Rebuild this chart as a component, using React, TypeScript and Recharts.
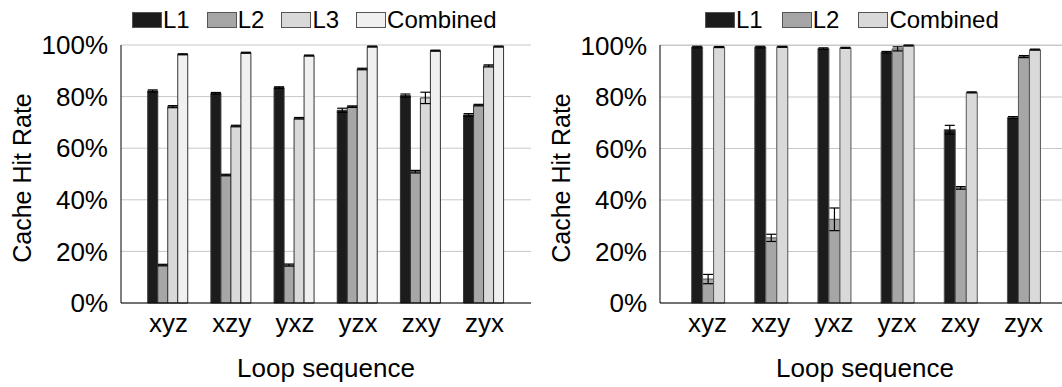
import React from "react";
import { BarChart, Bar, XAxis, YAxis, CartesianGrid, ErrorBar } from "recharts";

const FONT = '"Liberation Sans", Arial, Helvetica, sans-serif';

const sequences = ["xyz", "xzy", "yxz", "yzx", "zxy", "zyx"];
const yTicks = [0, 20, 40, 60, 80, 100];

// left panel: L1 / L2 / L3 / combined
const leftL1 = [82.2, 81.3, 83.5, 74.7, 80.4, 72.9];
const leftL1Err = [0.4, 0.3, 0.3, 0.8, 0.6, 0.5];
const leftL2 = [14.7, 49.6, 14.7, 76.1, 50.9, 76.7];
const leftL2Err = [0.3, 0.3, 0.4, 0.3, 0.5, 0.3];
const leftL3 = [76.1, 68.6, 71.6, 90.7, 79.5, 91.9];
const leftL3Err = [0.4, 0.3, 0.3, 0.3, 2.2, 0.4];
const leftComb = [96.4, 97.0, 95.9, 99.4, 97.8, 99.4];
const leftCombErr = [0.2, 0.2, 0.2, 0.2, 0.2, 0.2];

// right panel: L1 / L2 / combined
const rightL1 = [99.4, 99.4, 98.8, 97.4, 67.3, 72.0];
const rightL1Err = [0.3, 0.3, 0.3, 0.3, 1.7, 0.4];
const rightL2 = [9.3, 25.3, 32.5, 98.7, 44.7, 95.7];
const rightL2Err = [1.8, 1.4, 4.4, 0.8, 0.5, 0.4];
const rightComb = [99.4, 99.5, 99.1, 100, 81.8, 98.4];
const rightCombErr = [0.2, 0.2, 0.2, 0.2, 0.2, 0.2];

const COLORS = { l1: "#1c1c1c", l2: "#a6a6a6", l3: "#d9d9d9", comb: "#f0f0f0" };

const leftData = sequences.map((seq, i) => ({
  seq,
  l1: leftL1[i],
  l1Err: leftL1Err[i],
  l2: leftL2[i],
  l2Err: leftL2Err[i],
  l3: leftL3[i],
  l3Err: leftL3Err[i],
  comb: leftComb[i],
  combErr: leftCombErr[i],
}));

const rightData = sequences.map((seq, i) => ({
  seq,
  l1: rightL1[i],
  l1Err: rightL1Err[i],
  l2: rightL2[i],
  l2Err: rightL2Err[i],
  comb: rightComb[i],
  combErr: rightCombErr[i],
}));

const YTitle = (props: any) => {
  const vb = props.viewBox;
  const cx = vb.x + 22;
  const cy = vb.y + vb.height / 2 + 4;
  return (
    <text
      x={cx}
      y={cy}
      transform={`rotate(-90, ${cx}, ${cy})`}
      textAnchor="middle"
      dominantBaseline="central"
      fontSize={25}
      fill="#000"
      fontFamily={FONT}
    >
      Cache Hit Rate
    </text>
  );
};

type Series = { key: string; color: string; name: string };

function Panel({
  data,
  series,
  gap,
  stroke,
  left,
}: {
  data: any[];
  series: Series[];
  gap: string;
  stroke: string;
  left: number;
}) {
  return (
    <div style={{ position: "absolute", left, top: 0 }}>
      <BarChart
        width={540}
        height={387}
        data={data}
        margin={{ top: 45, right: 9, bottom: 0, left: 0 }}
        barCategoryGap={gap}
        barGap={0}
        style={{ fontFamily: FONT }}
      >
        <CartesianGrid vertical={false} stroke="#c8c8c8" />
        <XAxis
          dataKey="seq"
          height={84}
          padding={{ left: 16, right: 15 }}
          tickLine={false}
          tickSize={6}
          tickMargin={5}
          axisLine={{ stroke: "#000" }}
          tick={{ fill: "#000", fontSize: 26 }}
          label={{
            value: "Loop sequence",
            position: "insideBottom",
            offset: 10,
            fill: "#000",
            fontSize: 26,
          }}
        />
        <XAxis
          xAxisId="top"
          dataKey="seq"
          orientation="top"
          height={0}
          tick={false}
          tickLine={false}
          axisLine={{ stroke: "#000" }}
        />
        <YAxis
          width={121}
          domain={[0, 100]}
          ticks={yTicks}
          tickFormatter={(v) => `${v}%`}
          tickLine={false}
          tickSize={6}
          tickMargin={7}
          axisLine={{ stroke: "#000" }}
          tick={{ fill: "#000", fontSize: 26 }}
          label={<YTitle />}
        />
        <YAxis
          yAxisId="right"
          orientation="right"
          width={0}
          domain={[0, 100]}
          tick={false}
          tickLine={false}
          axisLine={{ stroke: "#000" }}
        />
        {series.map((s) => (
          <Bar
            key={s.key}
            dataKey={s.key}
            name={s.name}
            fill={s.color}
            stroke={stroke}
            strokeWidth={1}
            isAnimationActive={false}
          >
            <ErrorBar dataKey={`${s.key}Err`} width={5} stroke="#000" strokeWidth={1.2} />
          </Bar>
        ))}
      </BarChart>
    </div>
  );
}

function Legend({ series, left, gap }: { series: Series[]; left: number; gap: number }) {
  return (
    <div
      style={{
        position: "absolute",
        left,
        top: 8,
        height: 24,
        display: "flex",
        alignItems: "center",
        gap,
        fontFamily: FONT,
        fontSize: 24,
        lineHeight: "24px",
        color: "#000",
        whiteSpace: "nowrap",
      }}
    >
      {series.map((s) => (
        <div key={s.key} style={{ display: "flex", alignItems: "center" }}>
          <div
            style={{
              width: 28,
              height: 14,
              background: s.color,
              border: "1px solid #555",
              marginRight: 1,
            }}
          />
          <span>{s.name}</span>
        </div>
      ))}
    </div>
  );
}

const leftSeries: Series[] = [
  { key: "l1", color: COLORS.l1, name: "L1" },
  { key: "l2", color: COLORS.l2, name: "L2" },
  { key: "l3", color: COLORS.l3, name: "L3" },
  { key: "comb", color: COLORS.comb, name: "Combined" },
];

const rightSeries: Series[] = [
  { key: "l1", color: COLORS.l1, name: "L1" },
  { key: "l2", color: COLORS.l2, name: "L2" },
  { key: "comb", color: COLORS.l3, name: "Combined" },
];

export default function App() {
  return (
    <div
      style={{
        position: "absolute",
        left: 0,
        top: 0,
        width: 1062,
        height: 387,
        overflow: "hidden",
        background: "#fff",
      }}
    >
      <Panel data={leftData} series={leftSeries} gap="17%" stroke="#333" left={0} />
      <Panel data={rightData} series={rightSeries} gap="24.7%" stroke="#555" left={539} />
      <Legend series={leftSeries} left={132} gap={17} />
      <Legend series={rightSeries} left={705} gap={19} />
    </div>
  );
}
